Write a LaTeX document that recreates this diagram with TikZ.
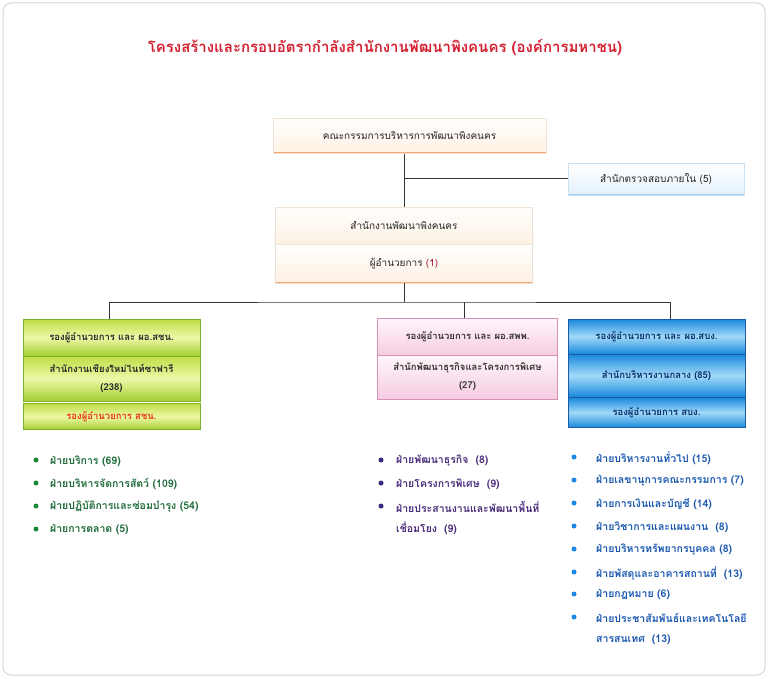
\documentclass[tikz,border=0pt]{standalone}
\usepackage{fontspec}
\newfontfamily\thai[Script=Thai]{Loma}
\definecolor{titlered}{HTML}{D42030}
\definecolor{framegray}{HTML}{D6D6D6}
\definecolor{creamedge}{HTML}{EFE2D4}
\definecolor{creambot}{HTML}{FDF1E2}
\definecolor{orangeedge}{HTML}{F4A878}
\definecolor{auditbot}{HTML}{E4F1FB}
\definecolor{auditedge}{HTML}{A6CDEA}
\definecolor{gtop}{HTML}{BEDD44}
\definecolor{gmid}{HTML}{EEF8A8}
\definecolor{gbot}{HTML}{A4CF30}
\definecolor{gedge}{HTML}{7FAE2A}
\definecolor{ptop}{HTML}{FFF6FB}
\definecolor{pbot}{HTML}{F5CCE0}
\definecolor{pedge}{HTML}{D890B8}
\definecolor{btop}{HTML}{1888DC}
\definecolor{bmid}{HTML}{A2DAF8}
\definecolor{bedge}{HTML}{1A5CA8}
\definecolor{btext}{HTML}{0B2E6B}
\definecolor{dirred}{HTML}{A01830}
\definecolor{g3red}{HTML}{E8380E}
\definecolor{gltext}{HTML}{1E6B3A}
\definecolor{gldot}{HTML}{1A8A3A}
\definecolor{pltext}{HTML}{4A2C7A}
\definecolor{pldot}{HTML}{3B2A84}
\definecolor{bltext}{HTML}{1A58B0}
\definecolor{bldot}{HTML}{1E88E5}
\definecolor{wire}{HTML}{333333}
\begin{document}
\begin{tikzpicture}[x=1pt,y=-1pt,
  font=\thai\fontsize{10}{12}\selectfont,
  box/.style={rectangle, inner sep=2pt, align=center},
  cream/.style={box, draw=creamedge, top color=white, bottom color=creambot, text=black!85,
    path picture={\draw[orangeedge, line width=3pt] (path picture bounding box.south west) -- (path picture bounding box.south east);}},
  auditbox/.style={box, draw=auditedge!60, top color=white, bottom color=auditbot, text=black!85,
    path picture={\draw[auditedge, line width=2.5pt] (path picture bounding box.south west) -- (path picture bounding box.south east);}},
  greenbox/.style={box, draw=gedge, line width=1pt, top color=gtop, bottom color=gbot, middle color=gmid, text=black!85, font=\thai\bfseries\fontsize{9.5}{12}\selectfont, minimum width=177pt},
  pinkbox/.style={box, draw=pedge, line width=1pt, top color=ptop, bottom color=pbot, text=black!80, font=\thai\bfseries\fontsize{9.5}{12}\selectfont, minimum width=180pt},
  bluebox/.style={box, draw=bedge, line width=1pt, top color=btop, bottom color=btop, middle color=bmid, text=btext, font=\thai\bfseries\fontsize{9.5}{12}\selectfont, minimum width=177pt},
  wireline/.style={draw=wire, line width=1pt},
  gitem/.style={anchor=west, inner sep=0pt, text=gltext, font=\thai\bfseries\fontsize{10.5}{12}\selectfont},
  pitem/.style={anchor=west, inner sep=0pt, text=pltext, font=\thai\bfseries\fontsize{10.5}{12}\selectfont},
  bitem/.style={anchor=west, inner sep=0pt, text=bltext, font=\thai\bfseries\fontsize{10.5}{12}\selectfont},
  gdot/.style={circle, fill=gldot, inner sep=0pt, minimum size=5pt},
  pdot/.style={circle, fill=pldot, inner sep=0pt, minimum size=5pt},
  bdot/.style={circle, fill=bldot, inner sep=0pt, minimum size=5pt}
]
\useasboundingbox (0,0) rectangle (768,679);
\fill[white] (0,0) rectangle (768,679);
\draw[framegray, line width=1pt, rounded corners=8pt] (3,3) rectangle (765,675);

% title
\node[text=titlered, font=\thai\bfseries\fontsize{15}{18}\selectfont] (title) at (385,47) {โครงสร้างและกรอบอัตรากำลังสำนักงานพัฒนาพิงคนคร (องค์การมหาชน)};

% top boxes
\node[cream, minimum width=273pt, minimum height=35pt] (board) at (409.5,136) {คณะกรรมการบริหารการพัฒนาพิงคนคร};
\node[auditbox, minimum width=176pt, minimum height=32pt] (audit) at (656,179) {สำนักตรวจสอบภายใน (5)};
\node[cream, minimum width=257pt, minimum height=37pt, path picture={}] (office) at (404,225.5) {สำนักงานพัฒนาพิงคนคร};
\node[cream, minimum width=257pt, minimum height=39pt] (director) at (404,263.5) {ผู้อำนวยการ \textcolor{dirred}{(1)}};

% green column
\node[greenbox, minimum height=37pt] (g1) at (111.5,337.5) {รองผู้อำนวยการ และ ผอ.สชน.};
\node[greenbox, minimum height=45pt, font=\thai\bfseries\fontsize{9.5}{18}\selectfont] (g2) at (111.5,378.5) {สำนักงานเชียงใหม่ไนท์ซาฟารี\\(238)};
\node[greenbox, minimum height=26pt, text=g3red] (g3) at (111.5,416.5) {รองผู้อำนวยการ สชน.};

% pink column
\node[pinkbox, minimum height=37pt] (p1) at (467.5,336.5) {รองผู้อำนวยการ และ ผอ.สพพ.};
\node[pinkbox, minimum height=44pt, font=\thai\bfseries\fontsize{9.5}{18}\selectfont] (p2) at (467.5,377) {สำนักพัฒนาธุรกิจและโครงการพิเศษ\\(27)};

% blue column
\node[bluebox, minimum height=35pt] (b1) at (656.5,336.5) {รองผู้อำนวยการ และ ผอ.สบง.};
\node[bluebox, minimum height=43pt] (b2) at (656.5,375.5) {สำนักบริหารงานกลาง (85)};
\node[bluebox, minimum height=30pt] (b3) at (656.5,412.5) {รองผู้อำนวยการ สบง.};

% connectors
\draw[wireline] (board.south -| office.north) -- (office.north);
\draw[wireline] (audit.west) -- (audit.west -| office.north);
\coordinate (bus) at (404,302);
\draw[wireline] (director.south) -- (bus);
\draw[wireline] ([xshift=-2.5pt]g1.north) |- (bus) -| ([xshift=13.5pt]b1.north);
\draw[wireline] ([xshift=-3.5pt]p1.north) -- ([xshift=-3.5pt]p1.north |- bus);

% green list
\node[gdot] (gd1) at (36,460) {};
\node[gitem] (gi1) at (50,461) {ฝ่ายบริการ (69)};
\node[gdot] (gd2) at (36,483) {};
\node[gitem] (gi2) at (50,484) {ฝ่ายบริหารจัดการสัตว์ (109)};
\node[gdot] (gd3) at (36,506) {};
\node[gitem] (gi3) at (50,507) {ฝ่ายปฏิบัติการและซ่อมบำรุง (54)};
\node[gdot] (gd4) at (36,529) {};
\node[gitem] (gi4) at (50,530) {ฝ่ายการตลาด (5)};

% purple list
\node[pdot] (pd1) at (381,460) {};
\node[pitem] (pi1) at (396,461) {ฝ่ายพัฒนาธุรกิจ~ (8)};
\node[pdot] (pd2) at (381,483) {};
\node[pitem] (pi2) at (396,484) {ฝ่ายโครงการพิเศษ~ (9)};
\node[pdot] (pd3) at (381,506) {};
\node[pitem] (pi3) at (396,507) {ฝ่ายประสานงานและพัฒนาพื้นที่};
\node[pitem] (pi3b) at (396,528) {เชื่อมโยง~ (9)};

% blue list
\node[bdot] (bd1) at (574,457) {};
\node[bitem] (bi1) at (596,458) {ฝ่ายบริหารงานทั่วไป (15)};
\node[bdot] (bd2) at (574,480) {};
\node[bitem] (bi2) at (596,481) {ฝ่ายเลขานุการคณะกรรมการ (7)};
\node[bdot] (bd3) at (574,503) {};
\node[bitem] (bi3) at (596,504) {ฝ่ายการเงินและบัญชี (14)};
\node[bdot] (bd4) at (574,526) {};
\node[bitem] (bi4) at (596,527) {ฝ่ายวิชาการและแผนงาน~ (8)};
\node[bdot] (bd5) at (574,549) {};
\node[bitem] (bi5) at (596,550) {ฝ่ายบริหารทรัพยากรบุคคล (8)};
\node[bdot] (bd6) at (574,572) {};
\node[bitem] (bi6) at (596,573) {ฝ่ายพัสดุและอาคารสถานที่~ (13)};
\node[bdot] (bd7) at (574,594) {};
\node[bitem] (bi7) at (596,595) {ฝ่ายกฎหมาย (6)};
\node[bdot] (bd8) at (574,617) {};
\node[bitem] (bi8) at (596,618) {ฝ่ายประชาสัมพันธ์และเทคโนโลยี};
\node[bitem] (bi8b) at (596,640) {สารสนเทศ~ (13)};
\end{tikzpicture}
\end{document}
